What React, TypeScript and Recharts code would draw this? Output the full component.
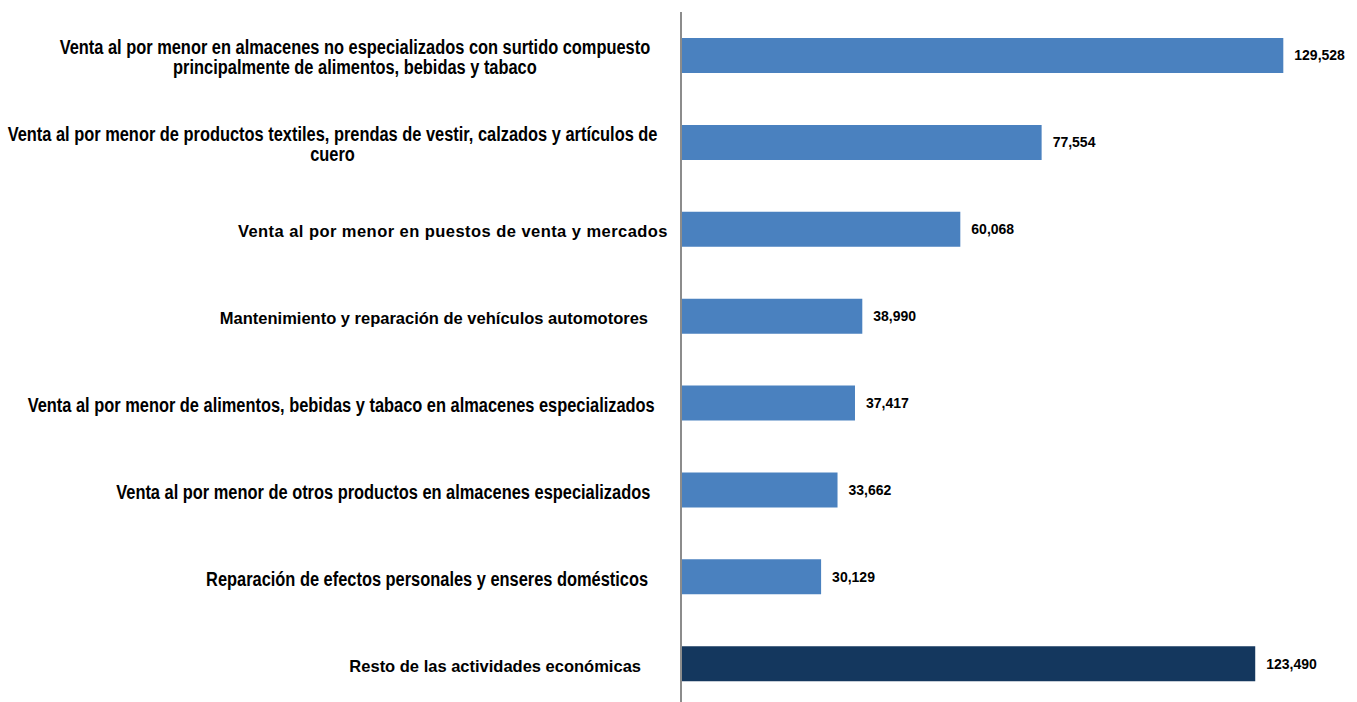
import { BarChart, Bar, XAxis, YAxis, Cell, LabelList } from 'recharts';

const categories = [
  'Venta al por menor en almacenes no especializados con surtido compuesto\nprincipalmente de alimentos, bebidas y tabaco',
  'Venta al por menor de productos textiles, prendas de vestir, calzados y artículos de\ncuero',
  'Venta al por menor en puestos de venta y mercados',
  'Mantenimiento y reparación de vehículos automotores',
  'Venta al por menor de alimentos, bebidas y tabaco en almacenes especializados',
  'Venta al por menor de otros productos en almacenes especializados',
  'Reparación de efectos personales y enseres domésticos',
  'Resto de las actividades económicas',
];

const values = [129528, 77554, 60068, 38990, 37417, 33662, 30129, 123490];

// which labels use the condensed face in the original
const narrow = [true, true, false, false, true, true, true, false];
// right-side padding some labels carry (trailing spaces in the source)
const padRight = [23, 16, 5, 25, 18, 23, 25, 32];
const spacing = [0, 0, 0.45, 0, 0, 0, 0, 0];

const data = categories.map((name, i) => ({ name, value: values[i] }));

const barColor = '#4a81bf';
const lastColor = '#14375e';

function CategoryTick(props: any) {
  const { x, y, payload, index } = props;
  const lines = String(payload.value).split('\n');
  const isNarrow = narrow[index];
  const boxW = 1000;
  const boxH = 60;
  return (
    <foreignObject x={x - boxW} y={y - boxH / 2 + 2} width={boxW} height={boxH}>
      <div
        style={{
          width: boxW,
          height: boxH,
          display: 'flex',
          alignItems: 'center',
          justifyContent: 'flex-end',
          boxSizing: 'border-box',
          paddingRight: padRight[index],
        }}
      >
        <span
          style={{
            display: 'inline-block',
            textAlign: 'center',
            fontFamily: "'Liberation Sans', Arial, sans-serif",
            fontWeight: 'bold',
            fontSize: isNarrow ? 20 : 16.5,
            lineHeight: isNarrow ? '20px' : '18px',
            letterSpacing: spacing[index],
            color: '#000',
            whiteSpace: 'nowrap',
            transform: isNarrow ? 'scaleX(0.82)' : undefined,
            transformOrigin: 'right center',
          }}
        >
          {lines.map((l, i) => (
            <div key={i}>{l}</div>
          ))}
        </span>
      </div>
    </foreignObject>
  );
}

export default function App() {
  return (
    <div style={{ position: 'absolute', left: 0, top: 0, background: '#fff' }}>
      <BarChart
        width={1357}
        height={710}
        data={data}
        layout="vertical"
        margin={{ top: 12, right: 25, bottom: 3, left: 0 }}
        barSize={35}
      >
        <XAxis type="number" domain={[0, 140000]} hide />
        <YAxis
          type="category"
          dataKey="name"
          width={681}
          tickLine={false}
          axisLine={{ stroke: '#8c8c8c', strokeWidth: 2 }}
          tick={<CategoryTick />}
          interval={0}
        />
        <Bar dataKey="value" isAnimationActive={false}>
          {data.map((d, i) => (
            <Cell key={i} fill={i === data.length - 1 ? lastColor : barColor} />
          ))}
          <LabelList
            dataKey="value"
            position="right"
            offset={11}
            formatter={(v: any) => Number(v).toLocaleString('en-US')}
            style={{
              fontFamily: "'Liberation Sans', Arial, sans-serif",
              fontWeight: 'bold',
              fontSize: 14,
              fill: '#000',
            }}
          />
        </Bar>
      </BarChart>
    </div>
  );
}
